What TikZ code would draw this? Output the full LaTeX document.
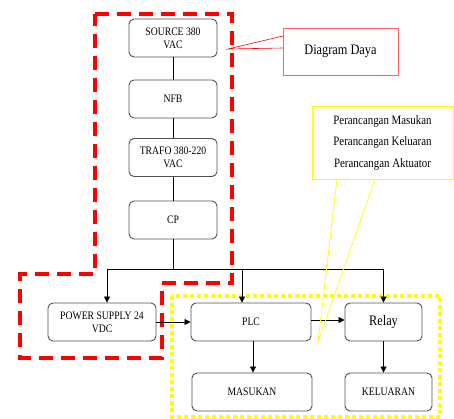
\documentclass[tikz,border=0pt]{standalone}
\usepackage{fontspec}
\setmainfont{Liberation Serif}
\newfontfamily\narrowserif[FakeStretch=0.85]{Liberation Serif}
\usetikzlibrary{arrows.meta}
\definecolor{boxgray}{HTML}{505050}
\definecolor{calloutred}{HTML}{FF6060}
\definecolor{hlyellow}{HTML}{FFFF00}
\begin{document}
\begin{tikzpicture}[x=1pt,y=-1pt,
  blk/.style={draw=boxgray,line width=0.9pt,rounded corners=5pt,fill=white,minimum height=38pt,align=center,inner sep=1pt,font=\narrowserif\fontsize{11.4}{13}\selectfont},
  conn/.style={line width=0.8pt,black},
  arr/.style={conn,-{Triangle[length=6pt,width=6pt]}},
  reddash/.style={draw=red,line width=4pt,dash pattern=on 14pt off 8pt},
  yeldot/.style={draw=hlyellow,line width=3.5pt,dash pattern=on 4pt off 3pt}
]
\useasboundingbox (0,0) rectangle (454,419);
\fill[white] (0,0) rectangle (454,419);

% red dashed power region
\draw[reddash] (95,14) -- (232,14) -- (232,283) -- (162,283) -- (162,358) -- (20,358) -- (20,274) -- (95,274) -- cycle;

% yellow dotted control region
\draw[yeldot] (172,296) rectangle (440,417);

% blocks
\node[blk,minimum width=88pt] (src) at (173,38) {SOURCE 380\\VAC};
\node[blk,minimum width=88pt] (nfb) at (173,99) {NFB};
\node[blk,minimum width=88pt] (trf) at (173,157.5) {TRAFO 380-220\\VAC};
\node[blk,minimum width=88pt] (cp) at (173,220) {CP};
\node[blk,minimum width=108pt] (ps) at (102,322) {POWER SUPPLY 24\\VDC};
\node[blk,minimum width=120pt] (plc) at (251,322) {PLC};
\node[blk,minimum width=77pt,font=\narrowserif\fontsize{14.5}{15}\selectfont] (rly) at (383.5,322) {Relay};
\node[blk,minimum width=120pt] (mas) at (252,392) {MASUKAN};
\node[blk,minimum width=87pt] (kel) at (388.5,392) {KELUARAN};

% connectors
\coordinate (bus) at (173,269);
\draw[conn] (src) -- (nfb);
\draw[conn] (nfb) -- (trf);
\draw[conn] (trf) -- (cp);
\draw[conn] (cp) -- (bus);
\draw[arr] (bus) -| (ps.north -| 107,0);
\draw[arr] (bus) -| (plc.north -| 242,0);
\draw[arr] (bus) -| (rly.north);
\draw[arr] (ps) -- (plc);
\draw[arr] (plc.east |- 0,320) -- (rly.west |- 0,320);
\draw[arr] (plc.south -| 253,0) -- (mas.north -| 253,0);
\draw[arr] (rly) -- (kel.north -| rly);

% Diagram Daya callout
\node[draw=calloutred,line width=0.8pt,fill=white,minimum width=115pt,minimum height=47pt,font=\narrowserif\fontsize{14.5}{15}\selectfont] (dd) at (340.5,51.5) {Diagram Daya};
\coordinate (ddtip) at (228,49);
\draw[red,line width=0.6pt] (283,36) -- (ddtip) -- (283,48);

% yellow callout
\node[draw=hlyellow,line width=0.8pt,fill=white,minimum width=141pt,minimum height=73pt,align=center,font=\narrowserif\fontsize{12.8}{21.5}\selectfont] (pc) at (382.5,142.5) {Perancangan Masukan\\Perancangan Keluaran\\Perancangan Aktuator};
\coordinate (pctip) at (318,342);
\draw[hlyellow,line width=0.7pt] (337,179) -- (pctip) -- (375,179);
\end{tikzpicture}
\end{document}
